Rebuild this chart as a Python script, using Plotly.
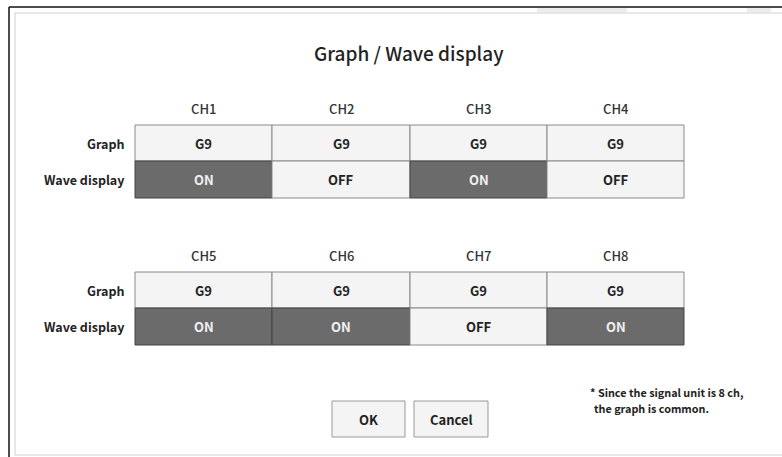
import plotly.graph_objects as go

channels = ['CH1', 'CH2', 'CH3', 'CH4', 'CH5', 'CH6', 'CH7', 'CH8']
graph_values = ['G9', 'G9', 'G9', 'G9', 'G9', 'G9', 'G9', 'G9']
wave_states = ['ON', 'OFF', 'ON', 'OFF', 'ON', 'ON', 'OFF', 'ON']
row_labels = ['Graph', 'Wave display']
title = 'Graph / Wave display'
note_lines = ['* Since the signal unit is 8 ch,', 'the graph is common.']
buttons = ['OK', 'Cancel']

FONT = 'Noto Sans CJK JP'
W, H = 782, 457

fig = go.Figure()
shapes = []
ann = []

# window frame
shapes.append(dict(type='rect', x0=537, x1=627, y0=8, y1=12, fillcolor='#ececec', line=dict(width=0)))
shapes.append(dict(type='rect', x0=747, x1=771, y0=8, y1=12, fillcolor='#ececec', line=dict(width=0)))
shapes.append(dict(type='line', x0=9, x1=W, y0=7, y1=7, line=dict(color='#111', width=1.5)))
shapes.append(dict(type='line', x0=9, x1=9, y0=7, y1=H, line=dict(color='#111', width=1.5)))
shapes.append(dict(type='rect', x0=15, x1=W + 5, y0=13, y1=455, line=dict(color='#d0d0d0', width=1), fillcolor='white'))

ann.append(dict(x=409, y=52, text=title, font=dict(family=FONT, size=19, color='#222', weight=500)))

col_x = [135, 272, 410, 547, 684]
blocks = [(108, 125, 161, 198), (255, 272, 308, 345)]  # header y, row tops/bottom

for b, (hy, r0, r1, r2) in enumerate(blocks):
    ann.append(dict(x=126, y=(r0 + r1) / 2, text='<b>' + row_labels[0] + '</b>', xanchor='right',
                    font=dict(family=FONT, size=12.5, color='#222')))
    ann.append(dict(x=126, y=(r1 + r2) / 2, text='<b>' + row_labels[1] + '</b>', xanchor='right',
                    font=dict(family=FONT, size=12.5, color='#222')))
    for j in range(4):
        i = b * 4 + j
        xa, xb = col_x[j], col_x[j + 1]
        xm = (xa + xb) / 2
        ann.append(dict(x=xm, y=hy, text=channels[i], font=dict(family=FONT, size=13, color='#333', weight=500)))
        shapes.append(dict(type='rect', x0=xa, x1=xb, y0=r0, y1=r1, fillcolor='#f4f4f4',
                           line=dict(color='#8a8a8a', width=1)))
        ann.append(dict(x=xm, y=(r0 + r1) / 2, text='<b>' + graph_values[i] + '</b>',
                        font=dict(family=FONT, size=13, color='#222')))
        on = wave_states[i] == 'ON'
        shapes.append(dict(type='rect', x0=xa, x1=xb, y0=r1, y1=r2,
                           fillcolor='#6b6b6b' if on else '#f4f4f4',
                           line=dict(color='#444' if on else '#8a8a8a', width=1)))
        ann.append(dict(x=xm, y=(r1 + r2) / 2, text='<b>' + wave_states[i] + '</b>',
                        font=dict(family=FONT, size=13, color='#f0f0f0' if on else '#222')))

# buttons
btn_x = [(332, 405), (414, 488)]
for k, name in enumerate(buttons):
    xa, xb = btn_x[k]
    shapes.append(dict(type='rect', x0=xa, x1=xb, y0=401, y1=437, fillcolor='#f4f4f4',
                       line=dict(color='#999', width=1)))
    ann.append(dict(x=(xa + xb) / 2, y=419, text='<b>' + name + '</b>',
                    font=dict(family=FONT, size=13, color='#222')))

# note
ann.append(dict(x=588, y=392, text='<b>' + note_lines[0] + '</b>', xanchor='left',
                font=dict(family=FONT, size=10.8, color='#222')))
ann.append(dict(x=592, y=408, text='<b>' + note_lines[1] + '</b>', xanchor='left',
                font=dict(family=FONT, size=10.8, color='#222')))

for a in ann:
    a.update(xref='x', yref='y', showarrow=False)
    a.setdefault('xanchor', 'center')
    a.setdefault('yanchor', 'middle')

fig.update_layout(
    width=W, height=H,
    margin=dict(l=0, r=0, t=0, b=0),
    paper_bgcolor='white', plot_bgcolor='white',
    xaxis=dict(range=[0, W], visible=False, fixedrange=True),
    yaxis=dict(range=[H, 0], visible=False, fixedrange=True),
    shapes=shapes, annotations=ann, showlegend=False,
)
fig.write_html("out.html", config={'displayModeBar': False},
               post_script="document.body.style.margin='0';document.body.style.overflow='hidden';")
